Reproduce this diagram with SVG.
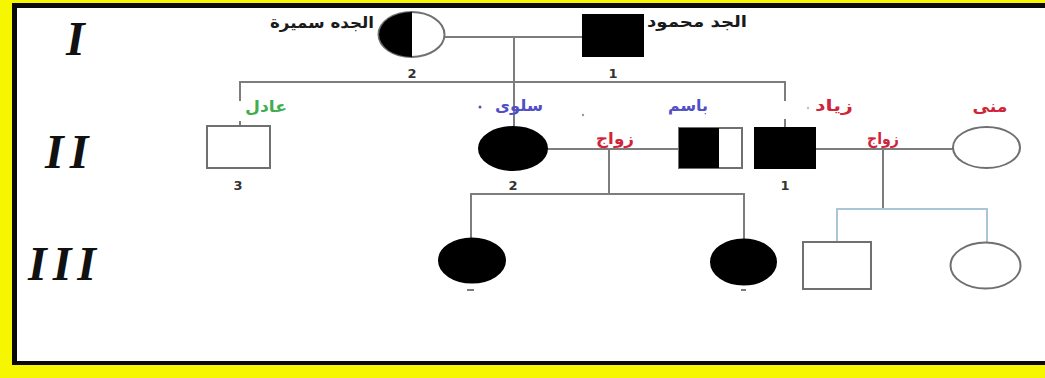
<svg xmlns="http://www.w3.org/2000/svg" width="1045" height="378" viewBox="0 0 1045 378">
  <style>
    .line { stroke: #7d7d7d; stroke-width: 2; fill: none; }
    .child-line { stroke: #a9c6d6; stroke-width: 2; fill: none; }
    .open { fill: #ffffff; stroke: #707070; stroke-width: 2; }
    .filled { fill: #000000; stroke: #000000; stroke-width: 2; }
    .gen { font-family: "Liberation Serif", serif; font-style: italic; font-weight: bold; font-size: 48px; fill: #111111; letter-spacing: 6px; }
    .num { font-family: "DejaVu Sans", "Liberation Sans", sans-serif; font-size: 13px; font-weight: bold; fill: #333333; text-anchor: middle; }
    .name { font-family: "DejaVu Sans", sans-serif; font-size: 16px; font-weight: bold; text-anchor: middle; }
    .elder { fill: #1a1a1a; }
    .green { fill: #3fae4f; }
    .blue { fill: #4f50c8; }
    .red { fill: #d0243a; }
  </style>

  <!-- frame: yellow ground, black rule on top, left and bottom -->
  <rect x="0" y="0" width="1045" height="378" fill="#f6f600"/>
  <rect x="12" y="3" width="1033" height="362" fill="#0a0a0a"/>
  <rect x="17" y="8" width="1028" height="353" fill="#ffffff"/>

  <!-- generation numerals -->
  <text class="gen" x="66" y="55">I</text>
  <text class="gen" x="45" y="168">II</text>
  <text class="gen" x="28" y="280">III</text>

  <!-- connectors -->
  <g id="connectors">
    <!-- generation I couple -->
    <line class="line" x1="445" y1="37" x2="583" y2="37"/>
    <line class="line" x1="514" y1="37" x2="514" y2="127"/>
    <!-- generation II sibship -->
    <line class="line" x1="240" y1="82" x2="786" y2="82"/>
    <line class="line" x1="240" y1="81" x2="240" y2="101"/>
    <line class="line" x1="240" y1="121" x2="240" y2="126"/>
    <line class="line" x1="785" y1="81" x2="785" y2="101"/>
    <line class="line" x1="785" y1="119" x2="785" y2="128"/>
    <!-- Salwa + Basem -->
    <line class="line" x1="547" y1="149" x2="679" y2="149"/>
    <line class="line" x1="609" y1="149" x2="609" y2="194"/>
    <line class="line" x1="471" y1="194" x2="745" y2="194"/>
    <line class="line" x1="471" y1="193" x2="471" y2="238"/>
    <line class="line" x1="744" y1="193" x2="744" y2="239"/>
    <!-- Ziad + Mona -->
    <line class="line" x1="815" y1="149" x2="953" y2="149"/>
    <line class="line" x1="883" y1="149" x2="883" y2="209"/>
    <line class="child-line" x1="837" y1="209" x2="988" y2="209"/>
    <line class="child-line" x1="837" y1="208" x2="837" y2="242"/>
    <line class="child-line" x1="987" y1="208" x2="987" y2="242"/>
    <!-- small marks under generation III -->
    <line class="line" x1="467" y1="290" x2="474" y2="290" stroke-width="1.5"/>
    <line class="line" x1="741" y1="290" x2="746" y2="290" stroke-width="1.5"/>
  </g>

  <!-- generation I -->
  <g id="grandmother-samira">
    <ellipse class="open" cx="411.5" cy="34.5" rx="33" ry="22.5"/>
    <path d="M 412 12 A 33 22.5 0 0 0 412 57 Z" fill="#000"/>
    <text class="name elder" x="322" y="28" textLength="104" lengthAdjust="spacingAndGlyphs">الجده سميرة</text>
    <text class="num" x="412" y="78">2</text>
  </g>
  <g id="grandfather-mahmoud">
    <rect class="filled" x="583" y="15" width="60" height="41"/>
    <text class="name elder" x="697" y="27" textLength="100" lengthAdjust="spacingAndGlyphs">الجد محمود</text>
    <text class="num" x="613" y="78">1</text>
  </g>

  <!-- generation II -->
  <g id="adel">
    <rect class="open" x="207" y="126" width="63" height="42"/>
    <text class="name green" x="266" y="112" textLength="42" lengthAdjust="spacingAndGlyphs">عادل</text>
    <text class="num" x="238" y="190">3</text>
  </g>
  <g id="salwa">
    <ellipse class="filled" cx="513" cy="148.5" rx="34" ry="21.5"/>
    <text class="name blue" x="519" y="111" textLength="48" lengthAdjust="spacingAndGlyphs">سلوى</text>
    <circle cx="480" cy="107" r="1.5" fill="#4f50c8"/>
    <circle cx="583" cy="115" r="1.2" fill="#999999"/>
    <text class="num" x="513" y="190">2</text>
    <text class="name red" x="615" y="144" textLength="38" lengthAdjust="spacingAndGlyphs">زواج</text>
  </g>
  <g id="basem">
    <rect class="open" x="679" y="128" width="63" height="40"/>
    <rect x="679" y="128" width="40" height="40" fill="#000"/>
    <text class="name blue" x="688" y="111" textLength="40" lengthAdjust="spacingAndGlyphs">باسم</text>
  </g>
  <g id="ziad">
    <rect class="filled" x="755" y="128" width="60" height="40"/>
    <text class="name red" x="834" y="111" textLength="38" lengthAdjust="spacingAndGlyphs">زياد</text>
    <circle cx="808" cy="108" r="1.2" fill="#c0c0c0"/>
    <text class="num" x="785" y="190">1</text>
    <text class="name red" x="883" y="144" textLength="32" lengthAdjust="spacingAndGlyphs">زواج</text>
  </g>
  <g id="mona">
    <ellipse class="open" cx="986.5" cy="147.5" rx="33.5" ry="20.5"/>
    <text class="name red" x="990" y="112" textLength="35" lengthAdjust="spacingAndGlyphs">منى</text>
  </g>

  <!-- generation III -->
  <g id="daughter-1">
    <ellipse class="filled" cx="472" cy="260.5" rx="33" ry="22"/>
  </g>
  <g id="daughter-2">
    <ellipse class="filled" cx="743.5" cy="262" rx="32.5" ry="22.5"/>
  </g>
  <g id="grandson">
    <rect class="open" x="803" y="242" width="68" height="47"/>
  </g>
  <g id="granddaughter">
    <ellipse class="open" cx="985.5" cy="265.5" rx="35" ry="23"/>
  </g>
</svg>
